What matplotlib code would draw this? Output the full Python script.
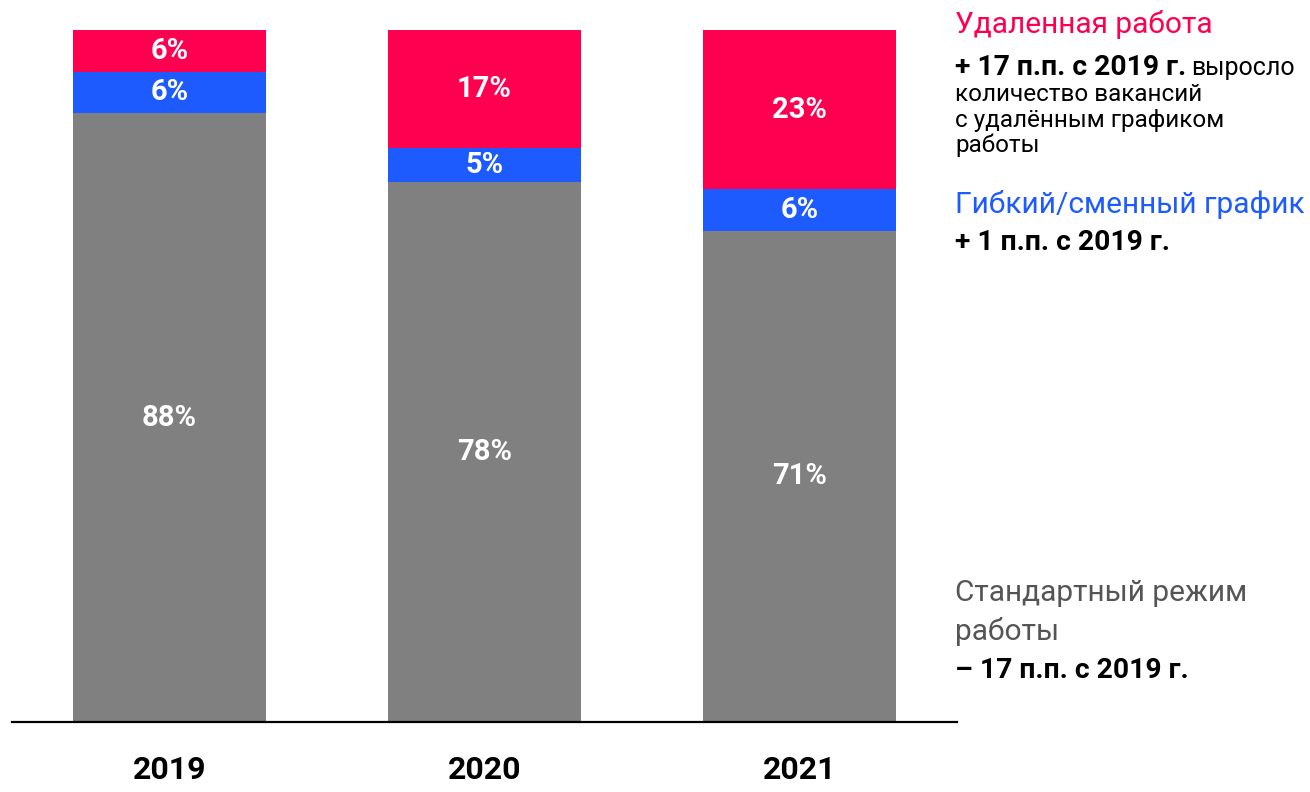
import matplotlib
matplotlib.use("Agg")
import matplotlib.pyplot as plt
import numpy as np

plt.rcParams['font.family'] = ['Roboto', 'DejaVu Sans']

years = ['2019', '2020', '2021']
standard = [88, 78, 71]
flexible = [6, 5, 6]
remote = [6, 17, 23]

gray = '#808080'
blue = '#1E5BFF'
red = '#FF0050'

fig = plt.figure(figsize=(13.1, 7.92), dpi=100)
ax = fig.add_axes([12 / 1310, 70 / 792, 945 / 1310, 692 / 792])

x = np.arange(len(years))
w = 0.613
b1 = ax.bar(x, standard, w, color=gray)
b2 = ax.bar(x, flexible, w, bottom=standard, color=blue)
bottom3 = np.array(standard) + np.array(flexible)
b3 = ax.bar(x, remote, w, bottom=bottom3, color=red)

for vals, bots in [(standard, [0, 0, 0]), (flexible, standard), (remote, bottom3)]:
    for i, v in enumerate(vals):
        ax.text(x[i], bots[i] + v / 2, f'{v}%', ha='center', va='center',
                color='white', fontsize=21, fontweight='bold')

ax.set_xlim(-0.5, 2.5)
ax.set_ylim(0, 100)
for s in ['top', 'right', 'left']:
    ax.spines[s].set_visible(False)
ax.spines['bottom'].set_linewidth(1.6)
ax.set_yticks([])
ax.set_xticks(x)
ax.set_xticklabels(years, fontsize=23, fontweight='bold')
ax.tick_params(axis='x', length=0, pad=24)

# annotations on the right
tx = 955 / 1310
def ft(ypix):
    return 1 - ypix / 792

fig.text(tx, ft(33), 'Удаленная работа', color=red, fontsize=21.5, va='baseline')
t = fig.text(tx, ft(75), '+ 17 п.п. с 2019 г.', color='black', fontsize=20.3,
             fontweight='bold', va='baseline')
fig.canvas.draw()
bb = t.get_window_extent()
fig.text(bb.x1 / 1310 + 0.004, ft(75), 'выросло', fontsize=18, va='baseline')
fig.text(tx, ft(101), 'количество вакансий', fontsize=17.5, va='baseline')
fig.text(tx, ft(126.5), 'с удалённым графиком', fontsize=17.5, va='baseline')
fig.text(tx, ft(152), 'работы', fontsize=17.5, va='baseline')

fig.text(tx, ft(213), 'Гибкий/сменный график', color=blue, fontsize=21.5, va='baseline')
fig.text(tx, ft(250), '+ 1 п.п. с 2019 г.', fontsize=20.3, fontweight='bold', va='baseline')

fig.text(tx, ft(601), 'Стандартный режим', color='#555555', fontsize=21.5, va='baseline')
fig.text(tx, ft(640), 'работы', color='#555555', fontsize=21.5, va='baseline')
fig.text(tx, ft(678), '– 17 п.п. с 2019 г.', fontsize=20.3, fontweight='bold', va='baseline')

fig.savefig('out.png', dpi=100)
